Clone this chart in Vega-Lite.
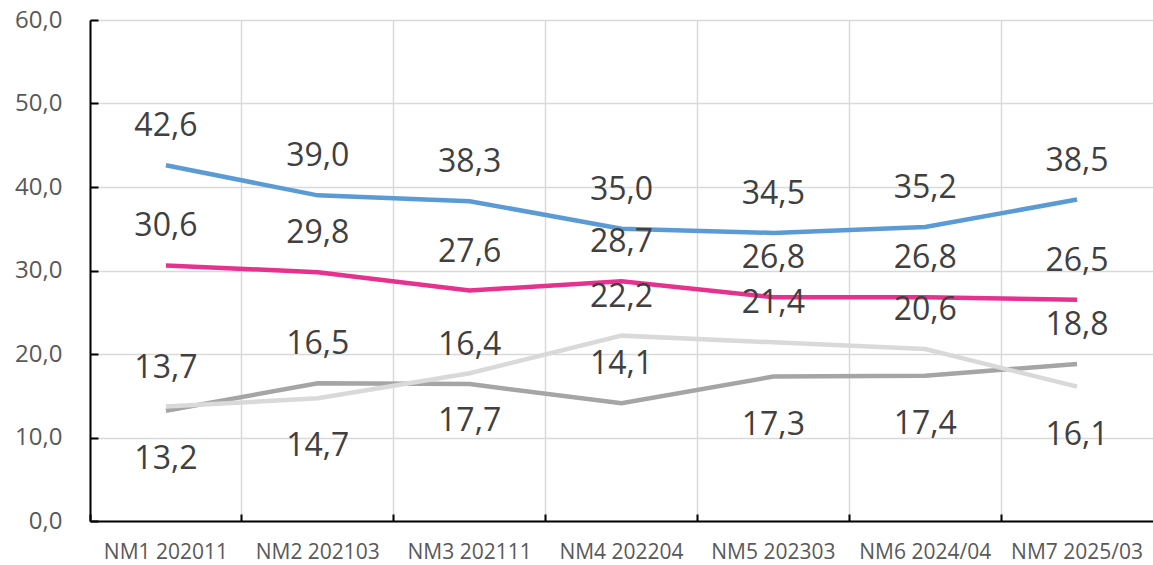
{
  "$schema": "https://vega.github.io/schema/vega-lite/v6.json",
  "autosize": {"type": "none"},
  "padding": {"left": 90, "top": 20, "right": 0, "bottom": 44},
  "width": 1063,
  "height": 501,
  "background": "white",
  "config": {
    "locale": {"number": {"decimal": ",", "thousands": ".", "grouping": [3], "currency": ["", " €"]}},
    "view": {"stroke": null},
    "font": "Open Sans"
  },
  "data": {"values": [
    {"period": "NM1 202011", "series": "A", "value": 42.6, "side": "above"},
    {"period": "NM2 202103", "series": "A", "value": 39.0, "side": "above"},
    {"period": "NM3 202111", "series": "A", "value": 38.3, "side": "above"},
    {"period": "NM4 202204", "series": "A", "value": 35.0, "side": "above"},
    {"period": "NM5 202303", "series": "A", "value": 34.5, "side": "above"},
    {"period": "NM6 2024/04", "series": "A", "value": 35.2, "side": "above"},
    {"period": "NM7 2025/03", "series": "A", "value": 38.5, "side": "above"},
    {"period": "NM1 202011", "series": "B", "value": 30.6, "side": "above"},
    {"period": "NM2 202103", "series": "B", "value": 29.8, "side": "above"},
    {"period": "NM3 202111", "series": "B", "value": 27.6, "side": "above"},
    {"period": "NM4 202204", "series": "B", "value": 28.7, "side": "above"},
    {"period": "NM5 202303", "series": "B", "value": 26.8, "side": "above"},
    {"period": "NM6 2024/04", "series": "B", "value": 26.8, "side": "above"},
    {"period": "NM7 2025/03", "series": "B", "value": 26.5, "side": "above"},
    {"period": "NM1 202011", "series": "C", "value": 13.2, "side": "below"},
    {"period": "NM2 202103", "series": "C", "value": 16.5, "side": "above"},
    {"period": "NM3 202111", "series": "C", "value": 16.4, "side": "above"},
    {"period": "NM4 202204", "series": "C", "value": 14.1, "side": "above"},
    {"period": "NM5 202303", "series": "C", "value": 17.3, "side": "below"},
    {"period": "NM6 2024/04", "series": "C", "value": 17.4, "side": "below"},
    {"period": "NM7 2025/03", "series": "C", "value": 18.8, "side": "above"},
    {"period": "NM1 202011", "series": "D", "value": 13.7, "side": "above"},
    {"period": "NM2 202103", "series": "D", "value": 14.7, "side": "below"},
    {"period": "NM3 202111", "series": "D", "value": 17.7, "side": "below"},
    {"period": "NM4 202204", "series": "D", "value": 22.2, "side": "above"},
    {"period": "NM5 202303", "series": "D", "value": 21.4, "side": "above"},
    {"period": "NM6 2024/04", "series": "D", "value": 20.6, "side": "above"},
    {"period": "NM7 2025/03", "series": "D", "value": 16.1, "side": "below"}
  ]},
  "encoding": {
    "x": {
      "field": "period", "type": "ordinal", "sort": null,
      "scale": {"type": "band", "paddingInner": 0, "paddingOuter": 0},
      "axis": {
        "title": null, "labelAngle": 0, "bandPosition": 0,
        "grid": true, "gridColor": "#D9D9D9", "gridWidth": 1.5,
        "domainColor": "#000000", "domainWidth": 2,
        "tickColor": "#000000", "tickWidth": 2, "tickSize": -7,
        "labelPadding": 27, "labelFontSize": 21, "labelColor": "#595959", "labelFont": "Open Sans"
      }
    },
    "y": {
      "field": "value", "type": "quantitative",
      "scale": {"domain": [0, 60], "nice": false},
      "axis": {
        "title": null, "values": [0, 10, 20, 30, 40, 50, 60], "format": ".1f",
        "grid": true, "gridColor": "#D9D9D9", "gridWidth": 1.5,
        "domainColor": "#000000", "domainWidth": 2,
        "tickColor": "#000000", "tickWidth": 2, "tickSize": -8,
        "labelPadding": 36, "labelFontSize": 24, "labelColor": "#595959", "labelFont": "Open Sans"
      }
    }
  },
  "layer": [
    {
      "mark": {"type": "line", "strokeWidth": 4.5},
      "encoding": {
        "color": {
          "field": "series", "type": "nominal", "legend": null,
          "scale": {"domain": ["A", "B", "C", "D"], "range": ["#5B9BD5", "#E7318E", "#A5A5A5", "#D9D9D9"]}
        },
        "order": {"value": 0}
      }
    },
    {
      "transform": [{"filter": "datum.side === 'above'"}],
      "mark": {"type": "text", "fontSize": 32, "color": "#404040", "dy": -39, "baseline": "middle", "font": "Open Sans"},
      "encoding": {"text": {"field": "value", "type": "quantitative", "format": ".1f"}}
    },
    {
      "transform": [{"filter": "datum.side === 'below'"}],
      "mark": {"type": "text", "fontSize": 32, "color": "#404040", "dy": 48, "baseline": "middle", "font": "Open Sans"},
      "encoding": {"text": {"field": "value", "type": "quantitative", "format": ".1f"}}
    }
  ]
}
